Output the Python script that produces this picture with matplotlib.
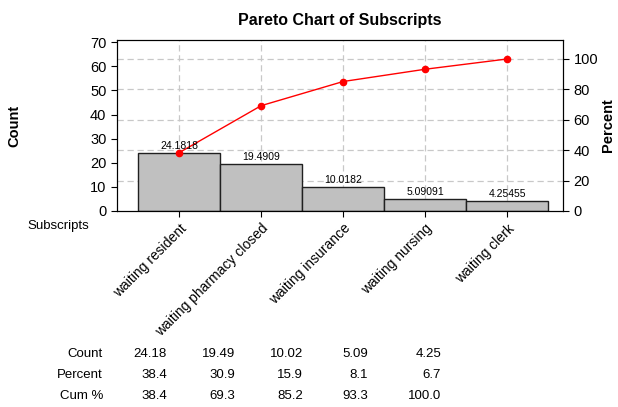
import numpy as np
from matplotlib import pyplot as plt

plt.rcParams['font.family'] = ['Liberation Sans', 'DejaVu Sans']

categories = ['waiting resident', 'waiting pharmacy closed', 'waiting insurance',
              'waiting nursing', 'waiting clerk']
counts = [24.1818, 19.4909, 10.0182, 5.09091, 4.25455]
count_txt = ['24.18', '19.49', '10.02', '5.09', '4.25']
percent_txt = ['38.4', '30.9', '15.9', '8.1', '6.7']
cum_txt = ['38.4', '69.3', '85.2', '93.3', '100.0']

total = sum(counts)
cum = np.cumsum(counts)
x = np.arange(len(categories))

fig = plt.figure(figsize=(6.18, 4.07), dpi=100)
ax = fig.add_axes([0.189, 0.4816, 0.722, 0.4201])

ax.bar(x, counts, width=1.0, color='#c0c0c0', edgecolor='#202020', linewidth=1.0, zorder=2)
for xi, c in zip(x, counts):
    ax.text(xi, c + 0.8, f'{c:g}', ha='center', va='bottom', fontsize=7.5, zorder=4)

ax.plot(x, cum, color='red', marker='o', markersize=4.5, linewidth=1, zorder=3)

ax.set_xlim(-0.76, 4.68)
ax.set_ylim(0, 70.9)
ax.set_yticks(range(0, 71, 10))
ax.set_xticks(x)
ax.set_xticklabels(categories, rotation=45, ha='right', rotation_mode='anchor')
ax.tick_params(axis='both', labelsize=10.5, length=4, direction='out')
ax.tick_params(axis='x', labelsize=10)
ax.set_ylabel('Count', fontweight='bold', fontsize=10.5)
ax.yaxis.set_label_coords(-0.213, 0.5)

ax2 = ax.twinx()
ax2.set_ylim(0, 70.9 / total * 100)
ax2.set_yticks(range(0, 101, 20))
ax2.tick_params(axis='y', labelsize=10.5, length=4, direction='out')
ax2.set_ylabel('Percent', fontweight='bold', fontsize=10.5)
ax2.yaxis.set_label_coords(1.086, 0.5)

# grid: vertical at categories, horizontal at percent ticks
for xi in x:
    ax.axvline(xi, color='#c8c8c8', linestyle=(0, (5, 3)), linewidth=0.9, zorder=0)
for p in range(20, 101, 20):
    ax.axhline(p / 100 * total, color='#c8c8c8', linestyle=(0, (5, 3)), linewidth=0.9, zorder=0)

ax.set_title('Pareto Chart of Subscripts', fontweight='bold', fontsize=11.5, pad=11)

fig.text(27 / 618, 1 - 226 / 407, 'Subscripts', fontsize=9.5, ha='left', va='center')

# table under the chart
col_x = [167, 235, 303, 368, 441]
rows = [('Count', count_txt, 354), ('Percent', percent_txt, 375), ('Cum %', cum_txt, 396)]
for name, vals, yy in rows:
    fig.text(103 / 618, 1 - yy / 407, name, fontsize=9.5, ha='right', va='center')
    for cx, v in zip(col_x, vals):
        fig.text(cx / 618, 1 - yy / 407, v, fontsize=9.5, ha='right', va='center')

plt.savefig('out.png', dpi=100)
